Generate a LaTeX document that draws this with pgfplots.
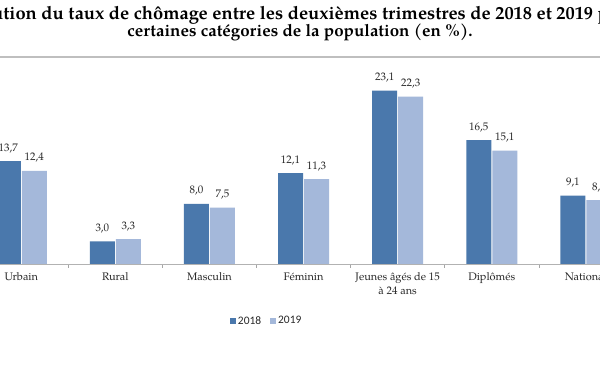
\documentclass[border=0pt]{standalone}
\usepackage{pgfplots}
\pgfplotsset{compat=1.18}
\usepackage{fontspec}
\setmainfont{TeX Gyre Pagella}
\newfontfamily\legfont{Carlito}
\definecolor{c18}{RGB}{74,120,172}
\definecolor{c19}{RGB}{164,184,218}
\definecolor{txt}{RGB}{40,40,40}
\begin{document}
\begin{tikzpicture}[x=1bp,y=1bp]
\useasboundingbox (0,0) rectangle (600,372);
\clip (0,0) rectangle (600,372);
\fill[white] (0,0) rectangle (600,372);
\node[font=\fontsize{18.4}{20}\selectfont\bfseries, text=black] at (290,358) {Évolution du taux de chômage entre les deuxièmes trimestres de 2018 et 2019 par};
\node[font=\fontsize{17}{20}\selectfont\bfseries, text=black] at (300,340) {certaines catégories de la population (en \%).};
\draw[black!25, line width=1.5bp] (0,315) -- (600,315);
\begin{axis}[
  at={(-27.4,144)}, anchor=south west,
  scale only axis, width=658.7bp, height=205bp,
  xmin=-0.5, xmax=6.5, ymin=0, ymax=27.33,
  hide y axis,
  axis x line*=bottom,
  x axis line style={draw=black!30, line width=0.8bp},
  xtick={0,...,6},
  xticklabels={Urbain,Rural,Masculin,Féminin,{Jeunes âgés de 15\\à 24 ans},Diplômés,National},
  xticklabel style={align=center, font=\fontsize{11}{14}\selectfont, text=txt, yshift=-5bp},
  major tick length=0pt,
  minor xtick={-0.5,0.5,...,6.5},
  minor tick length=4bp,
  tick align=outside,
  minor tick style={draw=black!35, line width=0.6bp},
  ybar=1bp, bar width=25bp,
  nodes near coords,
  nodes near coords style={font=\fontsize{11}{13}\selectfont, text=txt, yshift=5bp},
  /pgf/number format/fixed,
  /pgf/number format/fixed zerofill,
  /pgf/number format/precision=1,
  /pgf/number format/use comma,
  /pgf/number format/assume math mode=true,
  legend columns=2,
  legend style={at={(0.444,-0.278)}, anchor=center, draw=none, fill=none,
    font=\legfont\fontsize{11.5}{13}\selectfont, text=txt,
    /tikz/every even column/.append style={column sep=7bp}},
  legend image code/.code={\fill[#1] (0bp,-3bp) rectangle (6bp,3bp);},
  clip=false,
]
\addplot[fill=c18, draw=none] coordinates {(0,13.7) (1,3.0) (2,8.0) (3,12.1) (4,23.1) (5,16.5) (6,9.1)};
\addplot[fill=c19, draw=none] coordinates {(0,12.4) (1,3.3) (2,7.5) (3,11.3) (4,22.3) (5,15.1) (6,8.5)};
\legend{2018,2019}
\end{axis}
\end{tikzpicture}
\end{document}
